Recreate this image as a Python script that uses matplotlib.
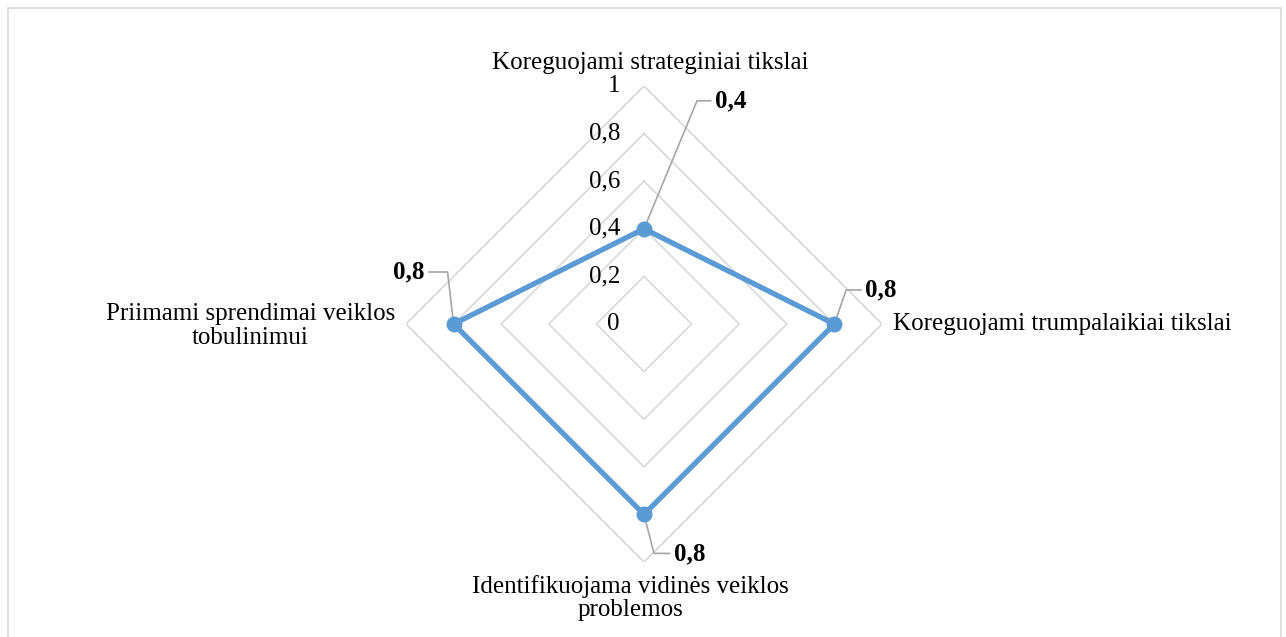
import numpy as np
import matplotlib.pyplot as plt
from matplotlib.patches import Rectangle

plt.rcParams['font.family'] = ['Liberation Serif', 'DejaVu Serif']

categories = ['Koreguojami strateginiai tikslai',
              'Koreguojami trumpalaikiai tikslai',
              'Identifikuojama vidinės veiklos\nproblemos',
              'Priimami sprendimai veiklos\ntobulinimui']
values = [0.4, 0.8, 0.8, 0.8]
value_labels = ['0,4', '0,8', '0,8', '0,8']
rticks = [0, 0.2, 0.4, 0.6, 0.8, 1.0]
rtick_labels = ['0', '0,2', '0,4', '0,6', '0,8', '1']

# label offsets in pixels (text pos, leader angle)
label_off = [(71, 128, 'left', 67.5), (31, 34, 'left', 71), (30, -39, 'left', -75.6), (-29, 52, 'right', 96.6)]
cat_off = [(6, 23, 'center'), (11, 0, 'left'), (-14, -36, 'center'), (-11, -2, 'right')]

fig = plt.figure(figsize=(12.86, 6.37), dpi=100)
fig.patches.append(Rectangle((7.5 / 1286, -0.1), 1273.5 / 1286, 1 - 8 / 637 + 0.1,
                             transform=fig.transFigure, fill=False, edgecolor='#d9d9d9', lw=1.2))

ax = fig.add_axes([406 / 1286, 75 / 637, 476 / 1286, 476 / 637], projection='polar')
ax.set_theta_offset(np.pi / 2)
ax.set_theta_direction(-1)
ax.set_ylim(0, 1)
ax.grid(False)
ax.spines['polar'].set_visible(False)
ax.set_xticks([])
ax.set_yticks([])
ax.patch.set_alpha(0)

theta = np.arange(len(categories)) * 2 * np.pi / len(categories)
tc = np.append(theta, theta[0])

for r in rticks[1:]:
    ax.plot(tc, [r] * len(tc), color='#d9d9d9', lw=1.2, zorder=1)

for r, lab in zip(rticks, rtick_labels):
    ax.annotate(lab, xy=(0, r), xytext=(-24, 0), textcoords='offset pixels',
                ha='right', va='center', fontsize=18, color='#000000')

vc = np.append(values, values[0])
ax.plot(tc, vc, color='#5b9bd5', lw=3.8, zorder=3, solid_joinstyle='miter')
ax.plot(theta, values, 'o', color='#5b9bd5', ms=10.5, zorder=4)

for t, v, lab, (dx, dy, ha, ang) in zip(theta, values, value_labels, label_off):
    ax.annotate(lab, xy=(t, v), xytext=(dx, dy), textcoords='offset pixels',
                ha=ha, va='center', fontsize=18, fontweight='bold',
                arrowprops=dict(arrowstyle='-', color='#a6a6a6', lw=1.2, shrinkA=1, shrinkB=0,
                                connectionstyle='angle,angleA=0,angleB=%s,rad=0' % ang))

for t, lab, (dx, dy, ha) in zip(theta, categories, cat_off):
    ax.annotate(lab, xy=(t, 1), xytext=(dx, dy), textcoords='offset pixels',
                ha=ha, va='center', multialignment='center', fontsize=18, linespacing=1.1,
                annotation_clip=False)

fig.savefig('out.png', dpi=100)
